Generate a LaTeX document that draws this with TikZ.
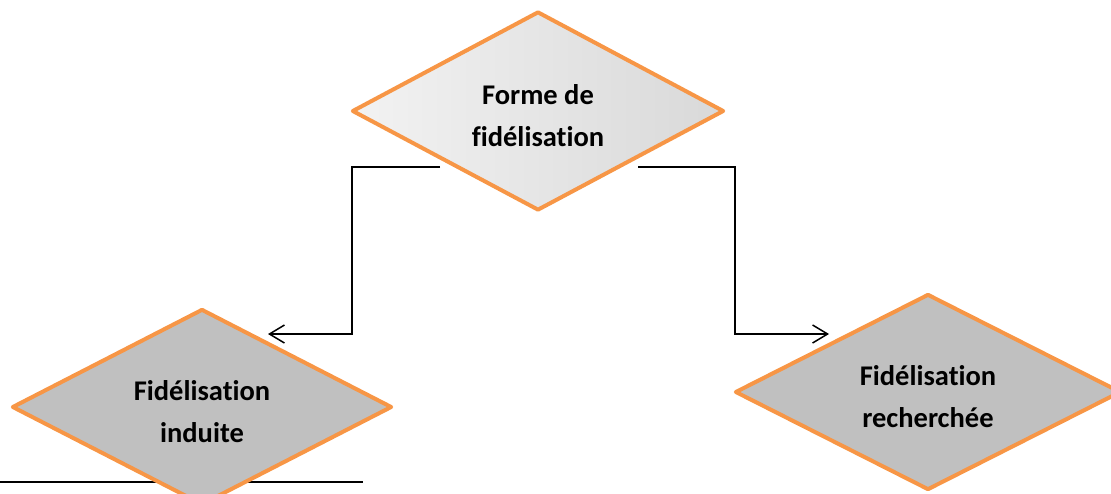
\documentclass[tikz,border=0pt]{standalone}
\usepackage{fontspec}
\setmainfont{Carlito}[Ligatures=NoCommon]
\usetikzlibrary{shapes.geometric,arrows.meta,calc}
\definecolor{accentorange}{HTML}{F79646}
\definecolor{silverfill}{HTML}{C0C0C0}
% two centred lines, kept out of the node's size so the diamond keeps its minimum size
\newcommand{\lowtext}[2]{\raisebox{-12pt}[0pt][0pt]{\begin{tabular}{@{}c@{}}#1\\#2\end{tabular}}}
\begin{document}
\begin{tikzpicture}[x=1pt,y=-1pt,
  choice/.style={diamond, draw=accentorange, line width=4pt, line join=round,
    inner sep=0pt, text=black,
    font=\fontsize{28.5}{42}\selectfont\bfseries},
  conn/.style={draw=black, line width=1.5pt, -{Straight Barb[length=15pt,width=18pt,line width=1.5pt]}},
  rule/.style={draw=black, line width=1.5pt}]
  \useasboundingbox (0,0) rectangle (1111,493);
  \clip (0,0) rectangle (1111,493);

  % underline running beneath the left decision
  \coordinate (r1) at (0,482);
  \coordinate (r2) at (363,482);
  \draw[rule] (r1) -- (r2);

  % decisions
  \node[choice, minimum width=372pt, minimum height=199pt,
        left color=white!95!black, right color=white!85!black]
        (top) at (538,111) {\lowtext{Forme de}{fidélisation}};
  \node[choice, fill=silverfill, minimum width=380pt, minimum height=196pt]
        (induite) at (202,407) {\lowtext{Fidélisation}{induite}};
  \node[choice, fill=silverfill, minimum width=386pt, minimum height=196pt]
        (recherchee) at (928,392) {\lowtext{Fidélisation}{recherchée}};

  % connector ends
  \coordinate (s1) at ($(top.center)+(-98,56)$);
  \coordinate (s2) at ($(top.center)+(100,56)$);
  \coordinate (e1) at ($(induite.center)+(66,-73)$);
  \coordinate (e2) at ($(recherchee.center)+(-99,-58)$);

  \draw[conn] (s1) -- ++(-88,0) |- (e1);
  \draw[conn] (s2) -- ++(97,0) |- (e2);
\end{tikzpicture}
\end{document}
